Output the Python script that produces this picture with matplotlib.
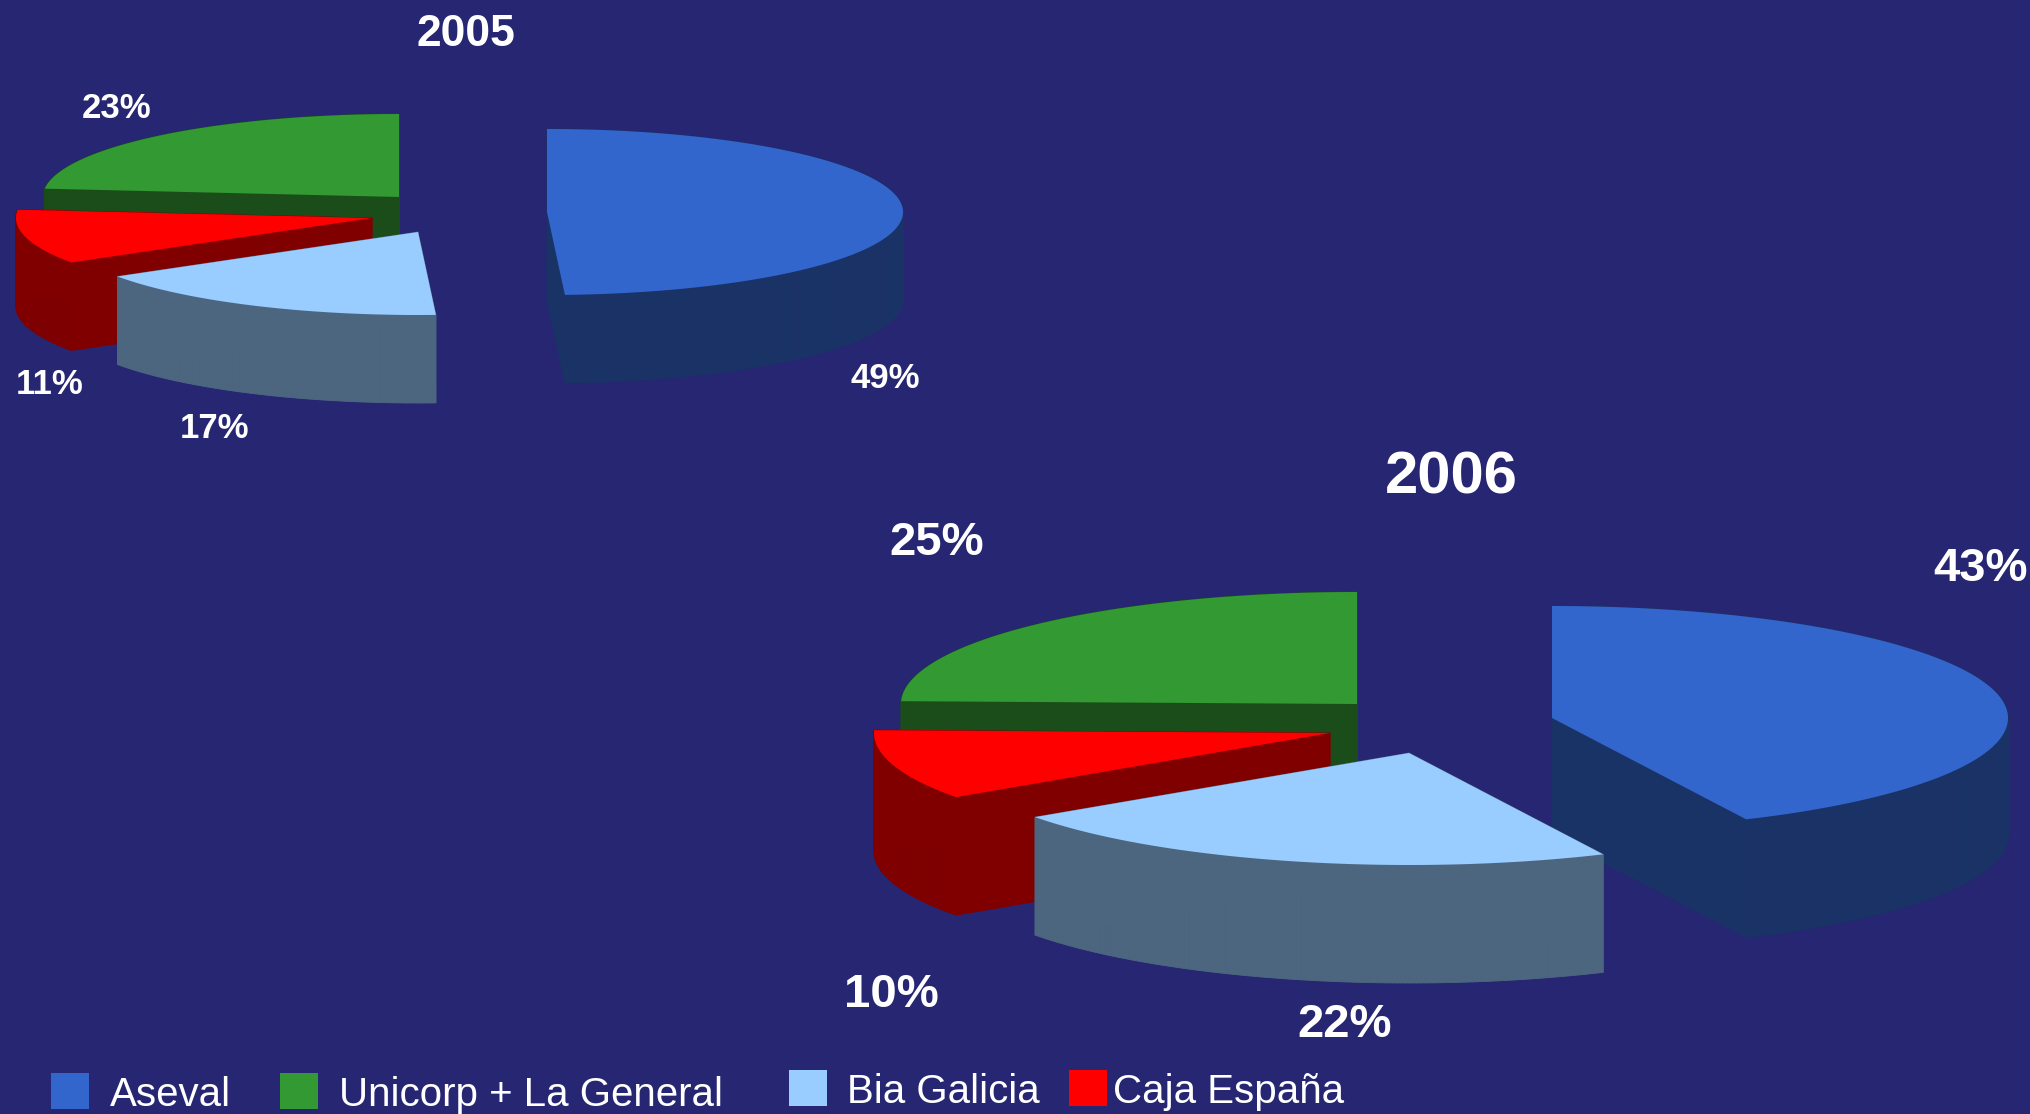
from __future__ import annotations

import matplotlib
matplotlib.use("Agg")
import matplotlib.pyplot as plt
import numpy as np
from matplotlib.collections import PolyCollection
from matplotlib.patches import Polygon, Rectangle

companies = ["Aseval", "Unicorp + La General", "Bia Galicia", "Caja España"]
# the printed labels are these rounded
share_2005 = [49.2, 23.4, 16.8, 10.6]
share_2006 = [43.0, 24.6, 22.3, 10.1]

BG = "#262672"
TOP_COLORS = ["#3366CC", "#339933", "#99CCFF", "#FF0000"]
SIDE_COLORS = ["#1A3366", "#1A4D1A", "#4D6680", "#800000"]

# layout in reference pixels: apex per slice, ellipse radii, extrusion depth
APEX_2005 = [(547, 212), (399, 197), (418, 232), (372, 218)]
APEX_2006 = [(1552, 718), (1357, 704), (1409, 753), (1330, 733)]
SHAPE_2005 = (356, 83, 88)
SHAPE_2006 = (456, 112, 118)

LABEL_POS_2005 = [(885, 379), (117, 108), (215, 428), (50, 385)]
LABEL_POS_2006 = [(1980, 569), (937, 543), (1345, 1025), (891, 995)]

# legend: swatch left, swatch top, text left, text baseline
LEGEND_POS = [(51, 1073, 110, 1106), (280, 1073, 339, 1106), (789, 1070, 847, 1103), (1069, 1070, 1113, 1103)]


def slice_outline(apex, rx, ry, start, end):
    theta = np.radians(np.linspace(start, end, max(int(end - start) * 2, 8)))
    x = apex[0] + rx * np.sin(theta)
    y = apex[1] - ry * np.cos(theta)
    return np.vstack([[apex], np.column_stack([x, y])])


def draw_pie(ax, shares, apexes, shape):
    rx, ry, depth = shape
    # clockwise from 12 o'clock: Aseval, Bia, Caja, Unicorp
    angle_order = [0, 2, 3, 1]
    edges = np.cumsum([0] + [shares[i] * 3.6 for i in angle_order])
    spans = {i: (edges[k], edges[k + 1]) for k, i in enumerate(angle_order)}
    # back to front
    for z, i in enumerate([0, 1, 3, 2]):
        top = slice_outline(apexes[i], rx, ry, *spans[i])
        low = top + [0, depth]
        closed_top = np.vstack([top, top[:1]])
        closed_low = np.vstack([low, low[:1]])
        quads = [
            [closed_top[k], closed_top[k + 1], closed_low[k + 1], closed_low[k]]
            for k in range(len(top))
        ]
        ax.add_collection(PolyCollection(quads, facecolors=SIDE_COLORS[i], edgecolors=SIDE_COLORS[i], linewidths=0.6, zorder=2 + z * 2))
        ax.add_patch(Polygon(top, closed=True, facecolor=TOP_COLORS[i], edgecolor="none", zorder=3 + z * 2))


def draw_labels(ax, shares, positions, size):
    for value, (x, y) in zip(shares, positions):
        ax.text(x, y, f"{value:.0f}%", color="white", fontsize=size, fontweight="bold", ha="center", va="center", zorder=20)


plt.rcParams["font.family"] = ["Liberation Sans", "DejaVu Sans"]

fig = plt.figure(figsize=(20.31, 11.14), dpi=100, facecolor=BG)
ax = fig.add_axes([0, 0, 1, 1])
ax.set_xlim(0, 2031)
ax.set_ylim(1114, 0)
ax.axis("off")

draw_pie(ax, share_2005, APEX_2005, SHAPE_2005)
draw_pie(ax, share_2006, APEX_2006, SHAPE_2006)
draw_labels(ax, share_2005, LABEL_POS_2005, 25)
draw_labels(ax, share_2006, LABEL_POS_2006, 34)

ax.text(466, 34, "2005", color="white", fontsize=32, fontweight="bold", ha="center", va="center")
ax.text(1451, 478, "2006", color="white", fontsize=43, fontweight="bold", ha="center", va="center")

for name, color, (sx, sy, tx, ty) in zip(companies, TOP_COLORS, LEGEND_POS):
    ax.add_patch(Rectangle((sx, sy), 38, 36, facecolor=color, edgecolor="none"))
    ax.text(tx, ty, name, color="white", fontsize=29, ha="left", va="baseline")

fig.savefig("out.png", dpi=100, facecolor=BG)
plt.close(fig)
